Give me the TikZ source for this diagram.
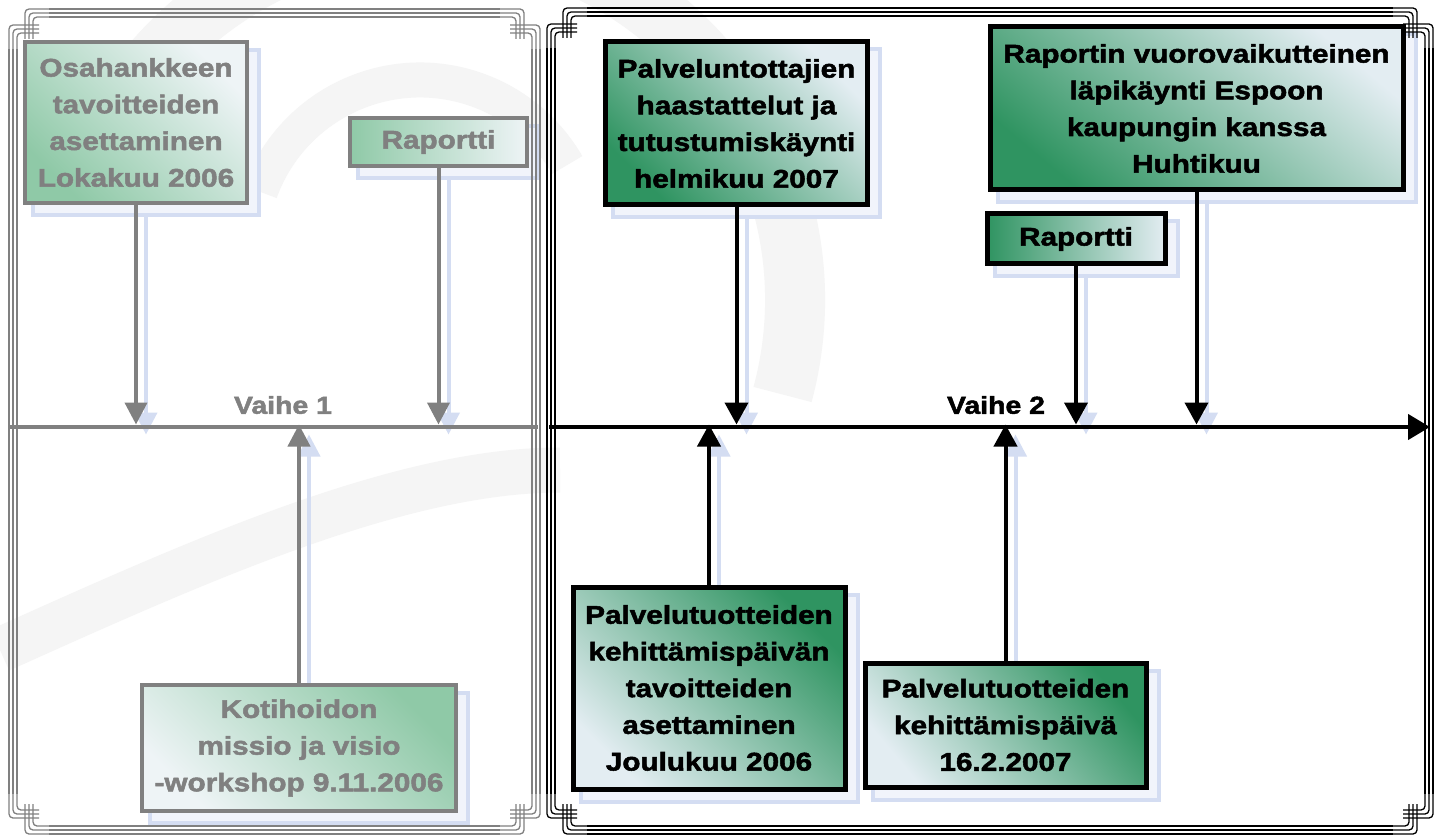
\documentclass[tikz,border=0pt]{standalone}
\usepackage{fontspec}
\setmainfont{Liberation Sans}[FakeStretch=1.16, BoldFeatures={FakeBold=2}]
\usetikzlibrary{arrows.meta,backgrounds}
\definecolor{dg}{HTML}{2F9461}
\definecolor{lg}{HTML}{E3EDF2}
\definecolor{fg}{HTML}{8FC9A7}
\definecolor{fl}{HTML}{EEF4F6}
\definecolor{gr}{HTML}{808080}
\definecolor{shl}{HTML}{D4DDF2}
\definecolor{shf}{HTML}{F1F4FB}
\definecolor{wm}{HTML}{F5F5F5}
\tikzset{
  box/.style={draw, line width=5pt, inner sep=0pt, align=center,
    font=\fontsize{25.6}{36.7}\selectfont\bfseries},
  bbox/.style={box, draw=black, text=black},
  gbox/.style={box, draw=gr, text=gr, line width=4.5pt},
  arrK/.style={draw=black, line width=4pt, -{Triangle[width=23pt,length=22pt]}},
  arrG/.style={draw=gr, line width=4pt, -{Triangle[width=22pt,length=22pt]}},
  arrS/.style={draw=shl, line width=4pt, -{Triangle[width=22pt,length=22pt]}},
  shbox/.style={draw=shl, fill=shf, line width=4pt},
  frline/.style={line width=1.3pt},
  lbl/.style={font=\fontsize{24.5}{30}\selectfont\bfseries, inner sep=0pt}
}
\newcommand\fancyframe[5]{%
  \foreach \o in {0,4,8} {
    \draw[frline,#5] ({#1+40},{#2+\o}) -- ({#3-40},{#2+\o});
    \draw[frline,#5] ({#1+40},{#4-\o}) -- ({#3-40},{#4-\o});
    \draw[frline,#5] ({#1+\o},{#2+40}) -- ({#1+\o},{#4-40});
    \draw[frline,#5] ({#3-\o},{#2+40}) -- ({#3-\o},{#4-40});
  }
  \foreach \sx/\sy/\px/\py in {1/1/#1/#2, -1/1/#3/#2, 1/-1/#1/#4, -1/-1/#3/#4} {
    \begin{scope}[shift={(\px,\py)}, xscale=\sx, yscale=\sy]
      \foreach \o in {0,4,8} {
        \draw[frline,#5,rounded corners=4pt] (41,\o) -- ({16+\o},\o) -- ({16+\o},30);
        \draw[frline,#5,rounded corners=4pt] (\o,41) -- (\o,{16+\o}) -- (30,{16+\o});
      }
    \end{scope}
  }
}
\begin{document}
\begin{tikzpicture}[x=1pt,y=-1pt]
\useasboundingbox (0,0) rectangle (1436,837);

% frames
\fancyframe{9}{9}{540}{834}{gr}
\fancyframe{547}{8}{1433}{834}{black}

% timelines
\coordinate (t1s) at (10,427);
\coordinate (t1e) at (538,427);
\coordinate (t2s) at (549,427);
\coordinate (t2e) at (1430,427);
\draw[gr, line width=4.5pt] (t1s) -- (t1e);
\draw[line width=4.5pt, -{Triangle[width=25pt,length=22pt]}] (t2s) -- (t2e);

\node[lbl, text=gr] (v1) at (283,405) {Vaihe 1};
\node[lbl, text=black] (v2) at (996,405) {Vaihe 2};

% left boxes
\node[gbox, top color=fl, bottom color=fg, shading angle=-45,
      minimum width=222pt, minimum height=161pt] (L1) at (136,122.5)
  {Osahankkeen\\tavoitteiden\\asettaminen\\Lokakuu 2006};
\node[gbox, left color=fg, right color=fl,
      minimum width=177pt, minimum height=48pt] (L2) at (438.5,142) {Raportti};
\node[gbox, top color=fg, bottom color=fl, shading angle=-45,
      minimum width=314pt, minimum height=126pt] (L3) at (299,748)
  {Kotihoidon\\missio ja visio\\-workshop 9.11.2006};

% right boxes
\node[bbox, top color=lg, bottom color=dg, shading angle=-45,
      minimum width=262pt, minimum height=163pt] (A) at (736.5,123.5)
  {Palveluntottajien\\haastattelut ja\\tutustumiskäynti\\helmikuu 2007};
\node[bbox, top color=lg, bottom color=dg, shading angle=-40,
      minimum width=413pt, minimum height=163pt] (B) at (1196.5,108.5)
  {Raportin vuorovaikutteinen\\läpikäynti Espoon\\kaupungin kanssa\\Huhtikuu};
\node[bbox, left color=dg, right color=lg,
      minimum width=178pt, minimum height=50pt] (C) at (1076,239) {Raportti};
\node[bbox, top color=dg, bottom color=lg, shading angle=-45,
      minimum width=272pt, minimum height=202pt] (D) at (709,688)
  {Palvelutuotteiden\\kehittämispäivän\\tavoitteiden\\asettaminen\\Joulukuu 2006};
\node[bbox, top color=dg, bottom color=lg, shading angle=-50,
      minimum width=281pt, minimum height=124pt] (E) at (1005.5,725)
  {Palvelutuotteiden\\kehittämispäivä\\16.2.2007};

% arrow end points
\coordinate (L1e) at (L1.south |- t1s);
\coordinate (L2e) at (L2.south |- t1s);
\coordinate (L3e) at (L3.north |- t1s);
\coordinate (Ae) at (A.south |- t2s);
\coordinate (Be) at (B.south |- t2s);
\coordinate (Ce) at (C.south |- t2s);
\coordinate (De) at (D.north |- t2s);
\coordinate (Ee) at (E.north |- t2s);

% connectors
\draw[arrG, shorten >=2.5pt] (L1.south) -- (L1e);
\draw[arrG, shorten >=2.5pt] (L2.south) -- (L2e);
\draw[arrG, shorten >=-2.5pt] (L3.north) -- (L3e);
\draw[arrK, shorten >=2.5pt] (A.south) -- (Ae);
\draw[arrK, shorten >=2.5pt] (B.south) -- (Be);
\draw[arrK, shorten >=2.5pt] (C.south) -- (Ce);
\draw[arrK, shorten >=-2.5pt] (D.north) -- (De);
\draw[arrK, shorten >=-2.5pt] (E.north) -- (Ee);

% background: white, watermark, shadows
\begin{pgfonlayer}{background}
  \fill[white] (0,0) rectangle (1436,837);
  \draw[wm, line width=60pt] ([shift={(195:365)}]430,300) arc (195:375:365);
  \draw[wm, line width=35pt] ([shift={(200:170)}]420,250) arc (200:330:170);
  \draw[wm, line width=45pt] (0,650) .. controls (200,560) and (400,470) .. (560,470);
  \foreach \n in {L1,L2,L3,A,B,C,D,E} {
    \draw[shbox] ([shift={(10,10)}]\n.north west) rectangle ([shift={(10,10)}]\n.south east);
  }
  \foreach \n/\a in {L1/south,L2/south,A/south,B/south,C/south} {
    \draw[arrS, shorten >=2.5pt] ([shift={(10,10)}]\n.\a) -- ([shift={(10,10)}]\n e);
  }
  \foreach \n/\a in {L3/north,D/north,E/north} {
    \draw[arrS, shorten >=-2.5pt] ([shift={(10,10)}]\n.\a) -- ([shift={(10,10)}]\n e);
  }
\end{pgfonlayer}
\end{tikzpicture}
\end{document}
